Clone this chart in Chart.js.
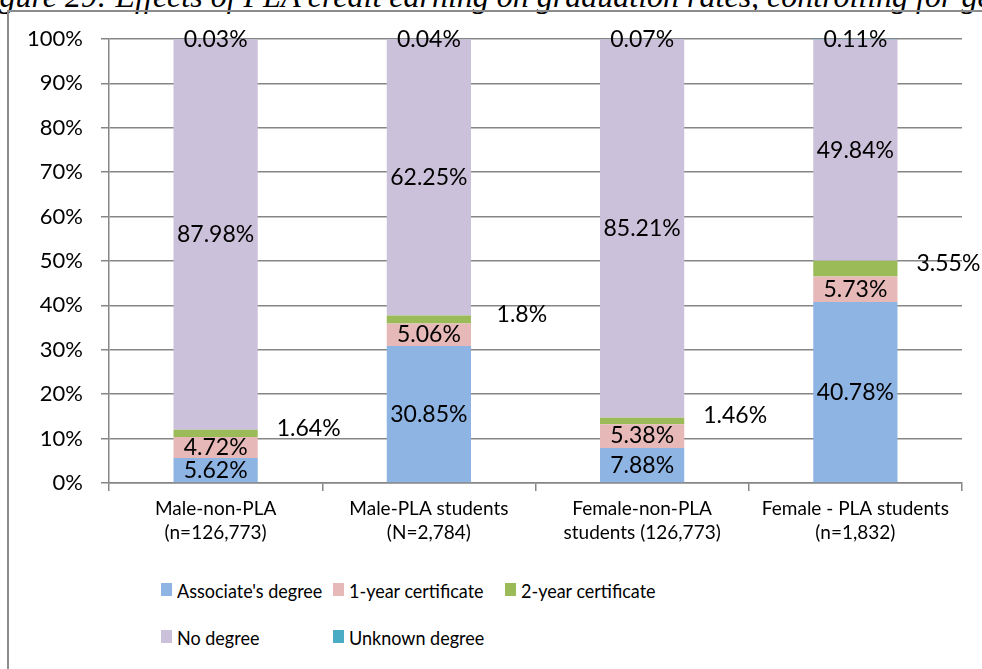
<!DOCTYPE html>
<html>
<head>
<meta charset="utf-8">
<script src="https://cdn.jsdelivr.net/npm/chart.js@4.4.1/dist/chart.umd.min.js"></script>
<style>
  body { margin: 0; background: #fff; overflow: hidden; }
  #page { position: relative; width: 982px; height: 669px; overflow: hidden; }
  #title {
    position: absolute; left: -29px; top: -20px; white-space: nowrap;
    font-family: "Liberation Serif", serif; font-style: italic; font-size: 32px; line-height: 32px; color: #000;
  }
  #frame {
    position: absolute; left: 7px; top: 10px; width: 1000px; height: 700px;
    border-left: 2px solid #8c8c8c; border-top: 2px solid #8c8c8c;
  }
  #myChart { position: absolute; left: 0; top: 0; }
  .item { position: absolute; font-family: Lato, sans-serif; font-size: 20px; color: #000; white-space: nowrap; line-height: 20px; }
  .box { position: absolute; left: 0; top: 3px; width: 11px; height: 13px; }
  .item span { position: absolute; left: 16px; top: 0; transform: scaleX(0.9); transform-origin: left center; }
</style>
</head>
<body>
<div id="page">
  <div id="title">Figure 29: Effects of PLA credit earning on graduation rates, controlling for gender</div>
  <div id="frame"></div>
  <canvas id="myChart" width="982" height="560"></canvas>
  <div id="legend"></div>
</div>
<script>
const ctx = document.getElementById("myChart").getContext("2d");

const labels = [
  ["Male-non-PLA", "(n=126,773)"],
  ["Male-PLA students", "(N=2,784)"],
  ["Female-non-PLA", "students (126,773)"],
  ["Female - PLA students", "(n=1,832)"]
];

const associate = [5.62, 30.85, 7.88, 40.78];
const oneYear = [4.72, 5.06, 5.38, 5.73];
const twoYear = [1.64, 1.8, 1.46, 3.55];
const noDegree = [87.98, 62.25, 85.21, 49.84];
const unknown = [0.03, 0.04, 0.07, 0.11];

const gridColor = "#868686";

const data = {
  labels,
  datasets: [
    { label: "Associate's degree", data: associate, backgroundColor: "#8eb4e3" },
    { label: "1-year certificate", data: oneYear, backgroundColor: "#e6b9b8" },
    { label: "2-year certificate", data: twoYear, backgroundColor: "#9bbb59" },
    { label: "No degree", data: noDegree, backgroundColor: "#ccc1da" },
    { label: "Unknown degree", data: unknown, backgroundColor: "#4bacc6" }
  ]
};

// value labels in the middle of each segment, 2-year ones off to the right
const valueLabels = {
  id: "valueLabels",
  afterDatasetsDraw(chart) {
    const c = chart.ctx;
    c.save();
    c.font = "23px Lato";
    c.fillStyle = "#000";
    c.textAlign = "center";
    c.textBaseline = "middle";
    chart.data.datasets.forEach((ds, i) => {
      chart.getDatasetMeta(i).data.forEach((bar, j) => {
        const p = bar.getProps(["x", "y", "base"], true);
        let x = p.x;
        let y = (p.y + p.base) / 2;
        if (i === 2) {
          x += 93;
          y -= 5;
        }
        c.fillText(ds.data[j] + "%", x, y);
      });
    });
    c.restore();
  }
};

const config = {
  type: "bar",
  data: data,
  plugins: [valueLabels],
  options: {
    responsive: false,
    animation: false,
    devicePixelRatio: 1,
    layout: { padding: { left: 0, right: 20, top: 39, bottom: 0 } },
    plugins: {
      legend: { display: false },
      tooltip: { enabled: false }
    },
    datasets: {
      bar: { categoryPercentage: 1, barPercentage: 0.395 }
    },
    scales: {
      x: {
        stacked: true,
        afterFit: (scale) => { scale.height = 77; },
        grid: { drawOnChartArea: false, tickLength: 8, color: gridColor, lineWidth: 1.5 },
        border: { color: gridColor, width: 1.5 },
        ticks: {
          color: "#000",
          padding: 6,
          maxRotation: 0,
          font: { family: "Lato", size: 19, lineHeight: 1.26 }
        }
      },
      y: {
        stacked: true,
        min: 0,
        max: 100,
        afterFit: (scale) => { scale.width = 109; },
        grid: { tickLength: 8, color: gridColor, lineWidth: 1.5 },
        border: { color: gridColor, width: 1.5 },
        ticks: {
          stepSize: 10,
          color: "#000",
          padding: 18,
          font: { family: "Lato", size: 22 },
          callback: function(value) {
            return value + "%";
          }
        }
      }
    }
  }
};

const myChart = new Chart(ctx, config);

// legend laid out as a grid, three per row
const legend = document.getElementById("legend");
myChart.data.datasets.forEach((ds, i) => {
  const item = document.createElement("div");
  item.className = "item";
  item.style.left = (161 + (i % 3) * 172) + "px";
  item.style.top = (580 + Math.floor(i / 3) * 47) + "px";
  const box = document.createElement("div");
  box.className = "box";
  box.style.background = ds.backgroundColor;
  const text = document.createElement("span");
  text.textContent = ds.label;
  item.appendChild(box);
  item.appendChild(text);
  legend.appendChild(item);
});
</script>
</body>
</html>
